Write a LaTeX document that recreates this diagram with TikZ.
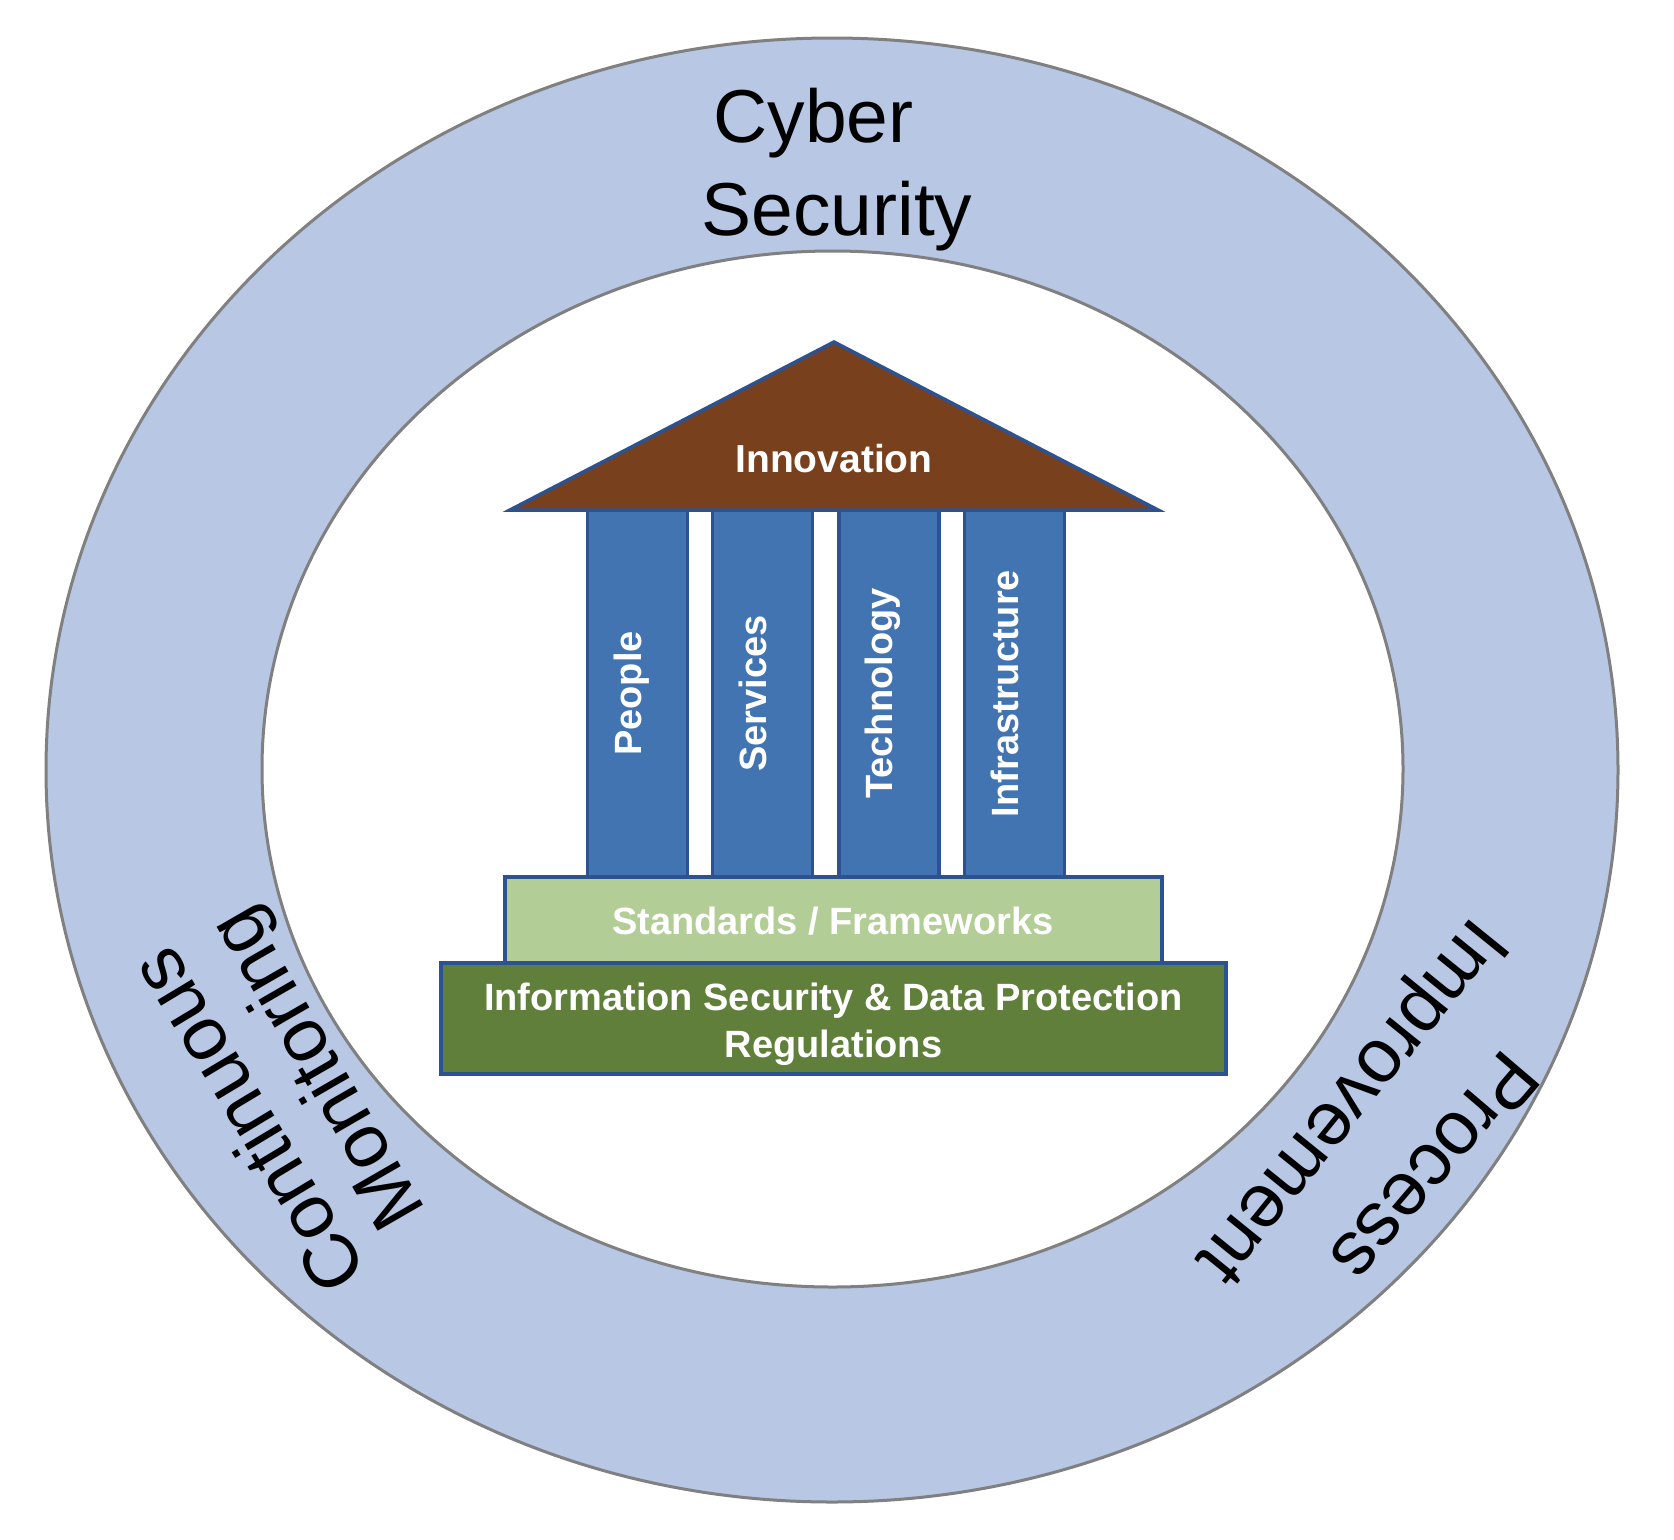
\documentclass[tikz,border=0pt]{standalone}
\usepackage{fontspec}
\setmainfont{Liberation Sans}
\definecolor{ringfill}{RGB}{183,199,228}
\definecolor{ringline}{RGB}{128,128,128}
\definecolor{roofcol}{RGB}{120,64,28}
\definecolor{colfill}{RGB}{66,116,178}
\definecolor{outline}{RGB}{44,82,146}
\definecolor{stdfill}{RGB}{178,206,150}
\definecolor{regfill}{RGB}{96,127,59}
\tikzset{
  ringedge/.style={draw=ringline, line width=3pt},
  pillar/.style={rectangle, draw=outline, fill=colfill, line width=3.5pt, inner sep=0pt, minimum width=100pt, minimum height=367pt},
  slab/.style={rectangle, draw=outline, line width=3.5pt, inner sep=0pt},
  whitelbl/.style={text=white, inner sep=0pt, font=\fontsize{38}{47}\selectfont\bfseries},
  pillarlbl/.style={whitelbl, text height=0.72em, text depth=0pt, anchor=center, rotate=90},
  ringlbl/.style={text=black, inner sep=0pt, font=\fontsize{76}{92}\selectfont, text height=0.6em, text depth=0pt, anchor=center},
  toplbl/.style={text=black, inner sep=0pt, font=\fontsize{75}{92}\selectfont, anchor=base}
}
\begin{document}
\begin{tikzpicture}[x=1pt,y=-1pt]
\useasboundingbox (0,0) rectangle (1674,1540);
\fill[white] (0,0) rectangle (1674,1540);
% ring
\draw[ringedge, fill=ringfill] (832,770) ellipse [x radius=786pt, y radius=732pt];
\draw[ringedge, fill=white] (832.5,769) ellipse [x radius=570.5pt, y radius=518pt];
% ring labels
\node[toplbl] (cyber) at (813.5,142) {Cyber};
\node[toplbl] (security) at (837,235) {Security};
\node[ringlbl, rotate=121] (continuous) at (267,1109) {Continuous};
\node[ringlbl, rotate=120] (monitoring) at (335,1058) {Monitoring};
\node[ringlbl, rotate=229.5] (process) at (1418,1153) {Process};
\node[ringlbl, rotate=231] (improvement) at (1336,1089) {Improvement};
% pillars
\node[pillar] (p1) at (637.5,693.5) {};
\node[pillar] (p2) at (762.5,693.5) {};
\node[pillar] (p3) at (889,693.5) {};
\node[pillar] (p4) at (1014.5,693.5) {};
\node[pillarlbl] (people) at (p1.center) {People};
\node[pillarlbl] (services) at (p2.center) {Services};
\node[pillarlbl] (technology) at (p3.center) {Technology};
\node[pillarlbl] (infrastructure) at (p4.center) {Infrastructure};
% roof
\coordinate (roofL) at (510,510);
\coordinate (roofT) at (834,342);
\coordinate (roofR) at (1158,510);
\draw[draw=outline, fill=roofcol, line width=3.5pt] (roofL) -- (roofT) -- (roofR) -- cycle;
\node[whitelbl, font=\fontsize{39}{47}\selectfont\bfseries, anchor=base] (innovation) at (834,472) {Innovation};
% slabs
\node[slab, fill=stdfill, minimum width=657pt, minimum height=86pt] (std) at (833.5,920) {};
\node[whitelbl, anchor=base] (stdlbl) at (832.7,934) {Standards / Frameworks};
\node[slab, fill=regfill, minimum width=785pt, minimum height=111pt] (reg) at (833.5,1018.5) {};
\node[whitelbl, anchor=base] (reglbla) at (833.5,1010.5) {Information Security \& Data Protection};
\node[whitelbl, anchor=base] (reglblb) at (833.5,1057.5) {Regulations};
\end{tikzpicture}
\end{document}
